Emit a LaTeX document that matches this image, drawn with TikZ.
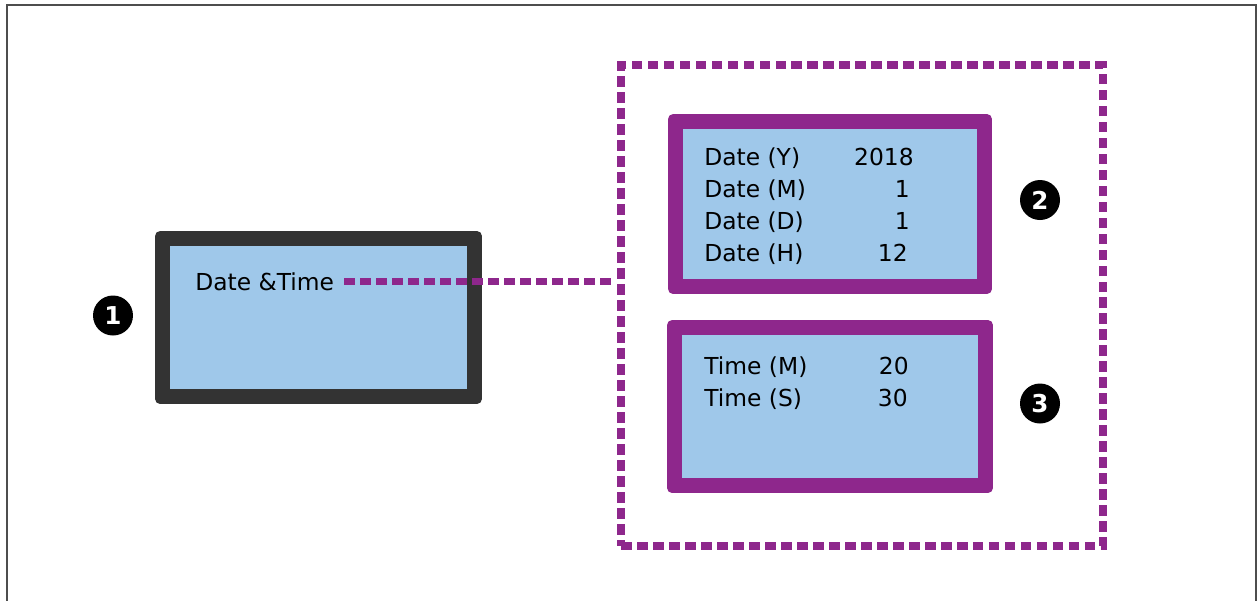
\documentclass[tikz,border=0pt]{standalone}
\usepackage{fontspec}
\setmainfont{DejaVu Sans}
\definecolor{lcdblue}{HTML}{9FC8EA}
\definecolor{lcdpurple}{HTML}{8E278C}
\definecolor{lcddark}{HTML}{333333}
\definecolor{framegrey}{HTML}{4D4D4D}
\tikzset{
  screen/.style={fill=#1, rounded corners=0.1cm, inner sep=0pt,
    path picture={\fill[lcdblue, sharp corners] ([shift={(0.3cm,0.3cm)}]path picture bounding box.south west)
      rectangle ([shift={(-0.3cm,-0.3cm)}]path picture bounding box.north east);}},
  lcd/.style={inner sep=0pt, font=\fontsize{13.3}{16}\selectfont},
  num/.style={circle, fill=black, text=white, minimum size=0.8cm, inner sep=0pt,
    font=\fontsize{14}{16}\selectfont\bfseries},
  dots/.style={draw=lcdpurple, line width=0.15cm, dash pattern=on 0.21cm off 0.11cm}
}
\begin{document}
\begin{tikzpicture}[x=0.02cm, y=-0.02cm]
  \useasboundingbox (0,0) rectangle (1257,600);
  \draw[framegrey, line width=0.05cm] (7,640) |- (1256,5) -- (1256,640);

  \node (main) [screen=lcddark, minimum width=6.54cm, minimum height=3.46cm] at (318.5,317.5) {};
  \node (dt) [lcd, anchor=base west] at (195,290) {Date \&Time};

  \node (grp) [dots, minimum width=9.64cm, minimum height=9.62cm] at (862,305.5) {};
  \node (date) [screen=lcdpurple, minimum width=6.48cm, minimum height=3.6cm] at (830,204) {};
  \node (time) [screen=lcdpurple, minimum width=6.52cm, minimum height=3.46cm] at (830,406.5) {};

  \node (dy)  [lcd, anchor=base west] at (704,165) {Date (Y)};
  \node (dm)  [lcd, anchor=base west] at (704,197) {Date (M)};
  \node (dd)  [lcd, anchor=base west] at (704,229) {Date (D)};
  \node (dh)  [lcd, anchor=base west] at (704,261) {Date (H)};
  \node (dyv) [lcd, anchor=base east] at (914,165) {2018};
  \node (dmv) [lcd, anchor=base east] at (910,197) {1};
  \node (ddv) [lcd, anchor=base east] at (910,229) {1};
  \node (dhv) [lcd, anchor=base east] at (908,261) {12};

  \node (tm)  [lcd, anchor=base west] at (704,374) {Time (M)};
  \node (ts)  [lcd, anchor=base west] at (704,406) {Time (S)};
  \node (tmv) [lcd, anchor=base east] at (909,374) {20};
  \node (tsv) [lcd, anchor=base east] at (908,406) {30};

  \node (n1) [num] at (113,315.5) {1};
  \node (n2) [num] at (1040,200) {2};
  \node (n3) [num] at (1040,403.5) {3};

  \path[dots, shorten <=0.2cm, shorten >=0.12cm]
  (dt.east) edge (dt.east -| grp.west)
  ;
\end{tikzpicture}
\end{document}
